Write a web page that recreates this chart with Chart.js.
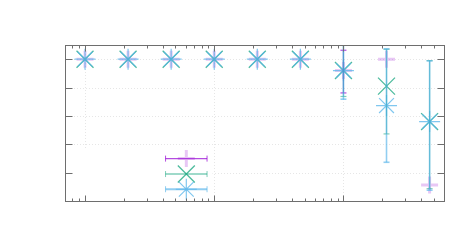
<!DOCTYPE html>
<html>
<head>
<meta charset="utf-8">
<script src="https://cdn.jsdelivr.net/npm/chart.js@4"></script>
<style>
  body { margin: 0; background: #fff; }
  #wrap { width: 472px; height: 250px; }
</style>
</head>
<body>
<div id="wrap"><canvas id="c"></canvas></div>
<script>
// x positions (log axis) and series values
const xVals = [1, 2.154, 4.642, 10, 21.54, 46.42, 100, 215.4, 464.2];
const purpleY = [1, 1, 1, 1, 1, 1, 0.92, 1.0, 0.113];
const greenY  = [1, 1, 1, 1, 1, 1, 0.92, 0.81, 0.56];
const blueY   = [1, 1, 1, 1, 1, 1, 0.92, 0.673, 0.56];

// y error bars (null = none)
const purpleLow  = [null, null, null, null, null, null, 0.762, null, null];
const purpleHigh = [null, null, null, null, null, null, 1.063, null, null];
const greenLow   = [null, null, null, null, null, null, 0.737, 0.473, 0.087];
const greenHigh  = [null, null, null, null, null, null, 1.2, 1.07, 0.99];
const blueLow    = [null, null, null, null, null, null, 0.718, 0.273, 0.076];
const blueHigh   = [null, null, null, null, null, null, 1.2, 1.073, 0.988];

// extra points with x error bars
const extraX = 6.08;
const extraXLow = 4.2;
const extraXHigh = 8.8;
const extraY = { purple: 0.299, green: 0.19, blue: 0.083 };

// ticks
const yTicks = [0, 0.2, 0.4, 0.6, 0.8, 1.0];
const xMajor = [1, 10, 100];
const xMinor = [0.8, 0.9, 2, 3, 4, 5, 6, 7, 8, 9, 20, 30, 40, 50, 60, 70, 80, 90, 200, 300, 400, 500];

const colors = {
    purpleMark: 'rgba(148, 0, 211, 0.22)',
    purpleBar: 'rgba(148, 0, 211, 0.7)',
    greenMark: 'rgba(0, 158, 115, 0.7)',
    greenBar: 'rgba(0, 158, 115, 0.5)',
    blueMark: 'rgba(86, 180, 233, 0.75)',
    blueBar: 'rgba(86, 180, 233, 0.65)'
};

function points(ys, extra) {
    const pts = xVals.map((x, i) => ({ x: x, y: ys[i] }));
    pts.push({ x: extraX, y: extra });
    return pts;
}

const series = [
    { key: 'purple', low: purpleLow, high: purpleHigh, ys: purpleY },
    { key: 'green', low: greenLow, high: greenHigh, ys: greenY },
    { key: 'blue', low: blueLow, high: blueHigh, ys: blueY }
];

function line(ctx, x1, y1, x2, y2) {
    ctx.beginPath(); ctx.moveTo(x1, y1); ctx.lineTo(x2, y2); ctx.stroke();
}

const gnuFrame = {
    id: 'gnuFrame',
    beforeDatasetsDraw(chart) {
        const { ctx, chartArea: a, scales: { x, y } } = chart;
        ctx.save();
        ctx.strokeStyle = '#e6e6e6';
        ctx.lineWidth = 1;
        ctx.setLineDash([1, 2]);
        yTicks.forEach(v => {
            const py = Math.round(y.getPixelForValue(v)) + 0.5;
            line(ctx, a.left, py, a.right, py);
        });
        xMajor.forEach(v => {
            const px = Math.round(x.getPixelForValue(v)) + 0.5;
            line(ctx, px, a.top, px, a.bottom);
        });
        // empty key box covers the grid in the lower left
        ctx.fillStyle = '#fff';
        const kx = x.getPixelForValue(9.7), ky = y.getPixelForValue(0.36);
        ctx.fillRect(a.left, ky, kx - a.left, a.bottom - ky);
        ctx.restore();
    },
    afterDatasetsDraw(chart) {
        const { ctx, chartArea: a, scales: { x, y } } = chart;
        ctx.save();
        ctx.beginPath();
        ctx.rect(a.left, a.top, a.right - a.left, a.bottom - a.top);
        ctx.clip();
        const cap = 3;
        series.forEach(s => {
            ctx.strokeStyle = colors[s.key + 'Bar'];
            ctx.lineWidth = s.key === 'blue' ? 1.6 : 1.2;
            xVals.forEach((xv, i) => {
                if (s.low[i] === null) return;
                const px = x.getPixelForValue(xv);
                const y1 = y.getPixelForValue(s.low[i]);
                const y2 = y.getPixelForValue(s.high[i]);
                line(ctx, px, y1, px, y2);
                line(ctx, px - cap, y1, px + cap, y1);
                line(ctx, px - cap, y2, px + cap, y2);
            });
            // horizontal error bar
            const py = y.getPixelForValue(extraY[s.key]);
            const x1 = x.getPixelForValue(extraXLow);
            const x2 = x.getPixelForValue(extraXHigh);
            ctx.lineWidth = s.key === 'blue' ? 2 : 1.4;
            line(ctx, x1, py, x2, py);
            ctx.lineWidth = 1;
            line(ctx, x1, py - cap, x1, py + cap);
            line(ctx, x2, py - cap, x2, py + cap);
        });
        ctx.restore();
    },
    afterDraw(chart) {
        const { ctx, chartArea: a, scales: { x, y } } = chart;
        ctx.save();
        ctx.strokeStyle = '#6e6e6e';
        ctx.lineWidth = 1;
        const L = Math.round(a.left) + 0.5, R = Math.round(a.right) + 0.5;
        const T = Math.round(a.top) + 0.5, B = Math.round(a.bottom) + 0.5;
        ctx.strokeRect(L, T, R - L, B - T);
        yTicks.forEach(v => {
            const py = Math.round(y.getPixelForValue(v)) + 0.5;
            line(ctx, L, py, L + 7, py);
            line(ctx, R, py, R - 7, py);
        });
        xMajor.forEach(v => {
            const px = Math.round(x.getPixelForValue(v)) + 0.5;
            line(ctx, px, B, px, B - 6);
            line(ctx, px, T, px, T + 6);
        });
        xMinor.forEach(v => {
            const px = Math.round(x.getPixelForValue(v)) + 0.5;
            line(ctx, px, B, px, B - 3);
            line(ctx, px, T, px, T + 3);
        });
        ctx.restore();
    }
};

new Chart(document.getElementById('c'), {
    type: 'scatter',
    data: {
        datasets: [{
            data: points(purpleY, extraY.purple),
            pointStyle: 'cross',
            pointRadius: 8.5,
            pointBorderWidth: 3,
            borderColor: colors.purpleMark,
            backgroundColor: colors.purpleMark,
            order: 3
        }, {
            data: points(greenY, extraY.green),
            pointStyle: 'crossRot',
            pointRadius: 12,
            pointBorderWidth: 1.3,
            borderColor: colors.greenMark,
            backgroundColor: colors.greenMark,
            order: 2
        }, {
            data: points(blueY, extraY.blue),
            pointStyle: 'star',
            pointRadius: 10.5,
            pointBorderWidth: 1.2,
            borderColor: colors.blueMark,
            backgroundColor: colors.blueMark,
            order: 1
        }]
    },
    options: {
        responsive: true,
        maintainAspectRatio: false,
        animation: false,
        layout: { padding: { left: 65, right: 28, top: 45, bottom: 49 } },
        plugins: {
            legend: { display: false },
            tooltip: { enabled: false }
        },
        scales: {
            x: { type: 'logarithmic', min: 0.7, max: 600, display: false },
            y: { type: 'linear', min: 0, max: 1.1, display: false }
        }
    },
    plugins: [gnuFrame]
});
</script>
</body>
</html>
